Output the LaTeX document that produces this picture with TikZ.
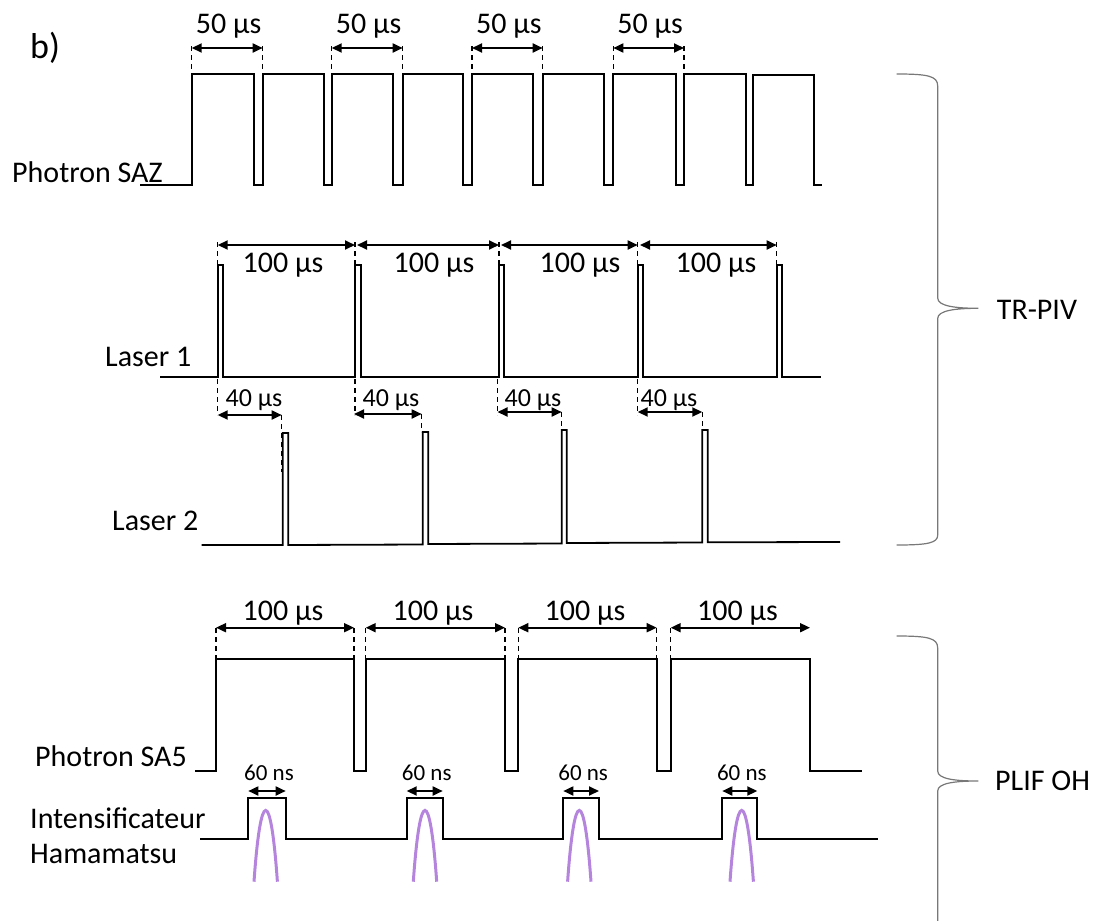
\documentclass[tikz,border=0pt]{standalone}
\usepackage{fontspec}
\setmainfont{Carlito}
\usetikzlibrary{arrows.meta}
\definecolor{pulsepurple}{RGB}{181,133,221}
\definecolor{bracegray}{RGB}{120,120,120}
\begin{document}
\begin{tikzpicture}[x=1pt,y=-1pt,
  wave/.style={line width=1.8pt, line join=miter},
  guide/.style={line width=1.3pt, dash pattern=on 5pt off 4pt},
  dim/.style={line width=1.8pt, arrows={Triangle[length=10pt,width=9pt]-Triangle[length=10pt,width=9pt]}},
  lbl/.style={font=\fontsize{30}{36}\selectfont, inner sep=0pt, anchor=base},
  lblsmall/.style={font=\fontsize{26}{30}\selectfont, inner sep=0pt, anchor=base},
  lbltiny/.style={font=\fontsize{23}{27}\selectfont, inner sep=0pt, anchor=base},
  side/.style={font=\fontsize{30}{36}\selectfont, inner sep=0pt, anchor=base west},
  brace/.style={draw=bracegray, line width=1.2pt},
  bump/.style={draw=pulsepurple, line width=3pt}
]
\useasboundingbox (0,0) rectangle (1109,921);

% title
\node[font=\fontsize{36}{42}\selectfont, inner sep=0pt, anchor=base west] (title) at (30,58) {b)};

% ---------------- Photron SAZ ----------------
\node[side] (saz) at (12,182) {Photron SAZ};
\draw[wave] (140,185) -- (191.7,185) -- (191.7,74) -- (254,74) -- (254,185) -- (262.7,185) -- (262.7,74)
  -- (324.3,74) -- (324.3,185) -- (331.7,185) -- (331.7,74) -- (393.3,74) -- (393.3,185) -- (402.7,185)
  -- (402.7,74) -- (463.3,74) -- (463.3,185) -- (472,185) -- (472,74) -- (533.3,74) -- (533.3,185)
  -- (542.7,185) -- (542.7,74) -- (604,74) -- (604,185) -- (613.3,185) -- (613.3,74) -- (675.7,74)
  -- (675.7,185) -- (684,185) -- (684,74) -- (746,74) -- (746,185) -- (752.7,185) -- (752.7,75)
  -- (814.3,75) -- (814.3,185) -- (821.7,185);
\foreach \x in {191.7,262.7,331.7,402.7,472,542.7,613.3,684}
  \draw[guide] (\x,46) -- (\x,74);
\foreach \a/\b [count=\i] in {191.7/262.7,331.7/402.7,472/542.7,613.3/684} {
  \draw[dim] (\a,48) -- (\b,48);
  \node[lbl] (t50-\i) at ({(\a+\b)/2+1.5},33) {50 µs};
}

% ---------------- Laser 1 ----------------
\node[side] (las1) at (105,366) {Laser 1};
\draw[wave] (160,376.7) -- (217.7,376.7) -- (217.7,265) -- (222.7,265) -- (222.7,376.7)
  -- (355,376.7) -- (355,265) -- (360.7,265) -- (360.7,376.7)
  -- (499,376.7) -- (499,265) -- (504,265) -- (504,376.7)
  -- (637.7,376.7) -- (637.7,265) -- (643.3,265) -- (643.3,376.7)
  -- (776.7,376.7) -- (776.7,265) -- (782,265) -- (782,376.7) -- (820.7,376.7);
\foreach \x in {217.7,355,499,637.7,776.7}
  \draw[guide] (\x,242) -- (\x,265);
\foreach \a/\b/\c [count=\i] in {217.7/355/283,357/499/434,501/637.7/580,640/776.7/716} {
  \draw[dim] (\a,245) -- (\b,245);
  \node[lbl] (t100a-\i) at (\c,272.7) {100 µs};
}
\foreach \x in {217.7,355,497.5,637.7}
  \draw[guide] (\x,379) -- (\x,415);

% ---------------- Laser 2 ----------------
\node[side] (las2) at (112,530) {Laser 2};
\draw[wave] (201.7,545) -- (282.7,545) -- (282.7,433) -- (288.3,433) -- (288.3,545)
  -- (422.7,544.5) -- (422.7,432) -- (428.3,432) -- (428.3,544)
  -- (561.7,543.5) -- (561.7,430) -- (566.7,430) -- (566.7,543)
  -- (702.3,542.5) -- (702.3,430) -- (707.7,430) -- (707.7,542.3) -- (840,542);
\foreach \a/\b/\y/\t/\c [count=\i] in {217.7/281.7/415/433/254, 354/421.7/414/432/391, 497.5/561.7/412/430/533, 637.7/702.3/412/430/669} {
  \draw[dim] (\a,\y) -- (\b,\y);
  \draw[guide] (\b,\y) -- (\b,\t);
  \node[lblsmall] (t40-\i) at (\c,406) {40 µs};
}
\draw[guide] (281.7,433) -- (281.7,472);

% ---------------- Photron SA5 ----------------
\node[side] (sa5) at (35,766.7) {Photron SA5};
\draw[wave] (195,770.7) -- (216,770.7) -- (216,659.3) -- (354,659.3) -- (354,770.7) -- (365.7,770.7)
  -- (365.7,659.3) -- (505,659.3) -- (505,770.7) -- (518.3,770.7) -- (518.3,659.3) -- (656.7,659.3)
  -- (656.7,770.7) -- (670.7,770.7) -- (670.7,659.3) -- (810,659.3) -- (810,770.7) -- (861.7,770.7);
\foreach \x in {216,354,365.7,505,518.3,656.7,670.7}
  \draw[guide] (\x,628) -- (\x,659.3);
\foreach \a/\b/\c [count=\i] in {216/354/283,365.7/505/433,518.3/656.7/585,670.7/810/737.5} {
  \draw[dim] (\a,627.7) -- (\b,627.7);
  \node[lbl] (t100b-\i) at (\c,620.7) {100 µs};
}

% ---------------- Intensificateur ----------------
\node[side] (int1) at (30,828) {Intensificateur};
\node[side] (int2) at (30,863) {Hamamatsu};
\draw[wave] (200,839.3) -- (248.3,839.3) -- (248.3,797.7) -- (285.7,797.7) -- (285.7,839.3)
  -- (406.7,839.3) -- (406.7,797.7) -- (442.7,797.7) -- (442.7,839.3)
  -- (563.3,839.3) -- (563.3,797.7) -- (599,797.7) -- (599,839.3)
  -- (722.3,839.3) -- (722.3,797.7) -- (757.3,797.7) -- (757.3,839.3) -- (878.3,839.3);
\foreach \a/\b [count=\i] in {248.3/285.7,406.7/442.7,563.3/599,722.3/757.3} {
  \draw[dim] (\a,791) -- (\b,791);
  \node[lbltiny] (t60-\i) at ({(\a+\b)/2+2},780) {60 ns};
}
\foreach \c in {265.7,425,579.3,741.7}
  \draw[bump] (\c-11.7,881.7) .. controls (\c-5,786.6) and (\c+5,786.6) .. (\c+11.7,881.7);

% ---------------- Braces ----------------
\draw[brace] (896.7,74) .. controls (928,74) and (937.7,76) .. (937.7,86) -- (937.7,298)
  .. controls (937.7,306) and (955,308.3) .. (978.3,308.3)
  .. controls (955,308.3) and (937.7,310.5) .. (937.7,318.5) -- (937.7,535)
  .. controls (937.7,543) and (928,545) .. (896.7,545);
\node[side] (trpiv) at (996.7,319.3) {TR-PIV};

\draw[brace] (896.7,636) .. controls (928,636) and (937.7,638) .. (937.7,648) -- (937.7,771)
  .. controls (937.7,779) and (955,781) .. (978.3,781)
  .. controls (955,781) and (937.7,783) .. (937.7,791) -- (937.7,921);
\node[side] (plif) at (995,790) {PLIF OH};
\end{tikzpicture}
\end{document}
